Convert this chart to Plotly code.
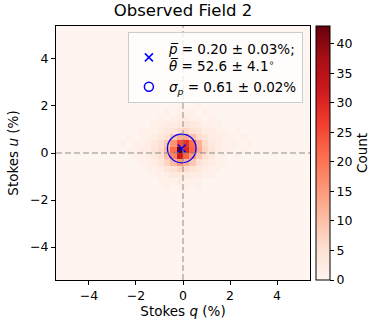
import numpy as np
import plotly.graph_objects as go
import plotly.colors as pc

# Data
# ~~~~~~~~~~~~~~~~~~~~~~~~~~~~~~~~~~~~~~~~~~~~~~~~~~~~~~~~~~~~~~~~~~~~~~~~
TITLE = "Observed Field 2"

HIST_RANGE = 5.4
N_BINS = 40

# counts around the centre; rows go from top (high u) to bottom,
# columns from left (low q) to right. first column is bin -10, first row bin 7
PATCH_COL0 = -10
PATCH_ROW0 = 7
COUNTS = [
    [0, 0, 0, 0, 0, 0, 0, 0, 0, 1, 0, 0, 1, 0, 0, 0, 0, 0, 0, 0, 0],
    [0, 0, 0, 0, 0, 0, 0, 1, 0, 1, 1, 1, 0, 1, 0, 0, 0, 0, 0, 0, 0],
    [0, 0, 0, 0, 0, 0, 1, 0, 1, 2, 2, 1, 1, 0, 1, 0, 0, 0, 0, 0, 0],
    [0, 0, 0, 0, 0, 1, 1, 2, 2, 3, 4, 3, 2, 1, 1, 1, 0, 0, 0, 0, 0],
    [0, 0, 0, 1, 1, 1, 2, 3, 4, 6, 7, 5, 4, 2, 2, 1, 1, 0, 1, 0, 0],
    [0, 1, 0, 1, 1, 2, 3, 5, 9, 12, 13, 10, 6, 4, 2, 2, 1, 1, 0, 1, 0],
    [1, 0, 1, 1, 2, 3, 5, 9, 16, 25, 28, 21, 12, 6, 3, 2, 1, 1, 1, 0, 1],
    [0, 1, 1, 2, 2, 4, 6, 11, 21, 43, 30, 22, 13, 7, 4, 2, 1, 1, 0, 1, 0],
    [0, 0, 1, 1, 2, 3, 5, 10, 18, 32, 22, 15, 9, 5, 3, 1, 1, 0, 1, 0, 0],
    [0, 0, 0, 1, 1, 2, 4, 7, 11, 15, 12, 9, 5, 3, 2, 1, 1, 0, 0, 0, 0],
    [0, 0, 0, 0, 1, 1, 2, 4, 5, 7, 6, 4, 3, 2, 1, 1, 0, 0, 0, 0, 0],
    [0, 0, 0, 0, 0, 1, 1, 2, 3, 3, 3, 2, 2, 1, 1, 0, 0, 0, 0, 0, 0],
    [0, 0, 0, 0, 0, 0, 1, 1, 1, 2, 1, 1, 1, 0, 0, 0, 0, 0, 0, 0, 0],
    [0, 0, 0, 0, 0, 0, 0, 1, 0, 1, 1, 0, 1, 0, 0, 0, 0, 0, 0, 0, 0],
    [0, 0, 0, 0, 0, 0, 0, 0, 0, 0, 0, 0, 0, 0, 0, 0, 0, 0, 0, 0, 0],
]

P_MEAN, P_ERR = 0.20, 0.03
THETA_MEAN, THETA_ERR = 52.6, 4.1
SIGMA_P, SIGMA_ERR = 0.61, 0.02

AXIS_TICKS = [-4, -2, 0, 2, 4]
CBAR_TICKS = [0, 5, 10, 15, 20, 25, 30, 35, 40]
CBAR_MAX = 43

FONT = "DejaVu Sans"
# ~~~~~~~~~~~~~~~~~~~~~~~~~~~~~~~~~~~~~~~~~~~~~~~~~~~~~~~~~~~~~~~~~~~~~~~~

edges = np.linspace(-HIST_RANGE, HIST_RANGE, N_BINS + 1)
centres = (edges[:-1] + edges[1:]) / 2

z = np.zeros((N_BINS, N_BINS))
for r, row in enumerate(COUNTS):
    iy = PATCH_ROW0 - r + N_BINS // 2
    for c, val in enumerate(row):
        ix = PATCH_COL0 + c + N_BINS // 2
        z[iy, ix] = val

q_mean = P_MEAN * np.cos(np.radians(2 * THETA_MEAN))
u_mean = P_MEAN * np.sin(np.radians(2 * THETA_MEAN))

fig = go.Figure()

fig.add_trace(go.Heatmap(
    x=centres, y=centres, z=z,
    colorscale=pc.sequential.Reds,
    zmin=0, zmax=CBAR_MAX,
    showscale=True,
    hoverinfo="skip",
    colorbar=dict(
        x=1.024, xanchor="left", xpad=0,
        y=0.5, yanchor="middle", len=1, lenmode="fraction", ypad=0,
        thickness=14,
        outlinecolor="black", outlinewidth=1,
        ticks="outside", ticklen=4, tickcolor="black",
        tickvals=CBAR_TICKS,
        tickfont=dict(family=FONT, size=12.5, color="black"),
        title=dict(text="Count", side="right",
                   font=dict(family=FONT, size=13.5, color="black")),
    ),
))

# mean point
fig.add_trace(go.Scatter(
    x=[q_mean], y=[u_mean], mode="markers",
    marker=dict(symbol="x-thin-open", size=8, color="blue",
                line=dict(color="blue", width=1.5)),
    name=(f"<i>p̅</i> = {P_MEAN:.2f} ± {P_ERR:.2f}%;<br>"
          f"<i>θ̅</i> = {THETA_MEAN:.1f} ± {THETA_ERR:.1f}<sup>∘</sup>"),
))

# legend handle for the sigma circle
fig.add_trace(go.Scatter(
    x=[None], y=[None], mode="markers",
    marker=dict(symbol="circle-open", size=9, color="blue",
                line=dict(color="blue", width=1.5)),
    name=f"<i>σ<sub>p</sub></i> = {SIGMA_P:.2f} ± {SIGMA_ERR:.2f}%",
))

fig.add_shape(
    type="circle", xref="x", yref="y",
    x0=q_mean - SIGMA_P, x1=q_mean + SIGMA_P,
    y0=u_mean - SIGMA_P, y1=u_mean + SIGMA_P,
    line=dict(color="blue", width=1.3),
)

# zero lines
zero_line = dict(color="rgba(128,128,128,0.6)", width=1.5, dash="6px,3px")
fig.add_hline(y=0, line=zero_line)
fig.add_vline(x=0, line=zero_line)

axis_style = dict(
    range=[-HIST_RANGE, HIST_RANGE],
    tickvals=AXIS_TICKS,
    ticks="outside", ticklen=4, tickcolor="black",
    showline=True, linecolor="black", linewidth=1, mirror=True,
    showgrid=False, zeroline=False, automargin=False,
    tickfont=dict(family=FONT, size=12.5, color="black"),
)

fig.update_layout(
    width=389, height=330,
    margin=dict(l=56, r=79, t=26, b=50, autoexpand=False),
    paper_bgcolor="white",
    plot_bgcolor="#fff5f0",
    font=dict(family=FONT, size=12.5, color="black"),
    title=dict(text=TITLE, x=0.5, xref="paper", xanchor="center",
               y=1, yref="container", yanchor="top", pad=dict(t=4),
               font=dict(family=FONT, size=16.5, color="black")),
    xaxis=dict(axis_style,
               title=dict(text="Stokes <i>q</i> (%)", standoff=4,
                          font=dict(family=FONT, size=13.5))),
    yaxis=dict(axis_style,
               title=dict(text="Stokes <i>u</i> (%)", standoff=8,
                          font=dict(family=FONT, size=13.5)),
               scaleanchor="x", scaleratio=1),
    legend=dict(
        x=0.972, y=0.975, xanchor="right", yanchor="top",
        bgcolor="rgba(255,255,255,0.8)",
        bordercolor="#cccccc", borderwidth=1,
        font=dict(family=FONT, size=13.5, color="black"),
        itemsizing="trace",
    ),
    showlegend=True,
)

# default page body has an 8px margin; drop it so the figure sits at 0,0
fig.write_html("out.html", config={"displayModeBar": False},
               post_script="document.body.style.margin='0';")
